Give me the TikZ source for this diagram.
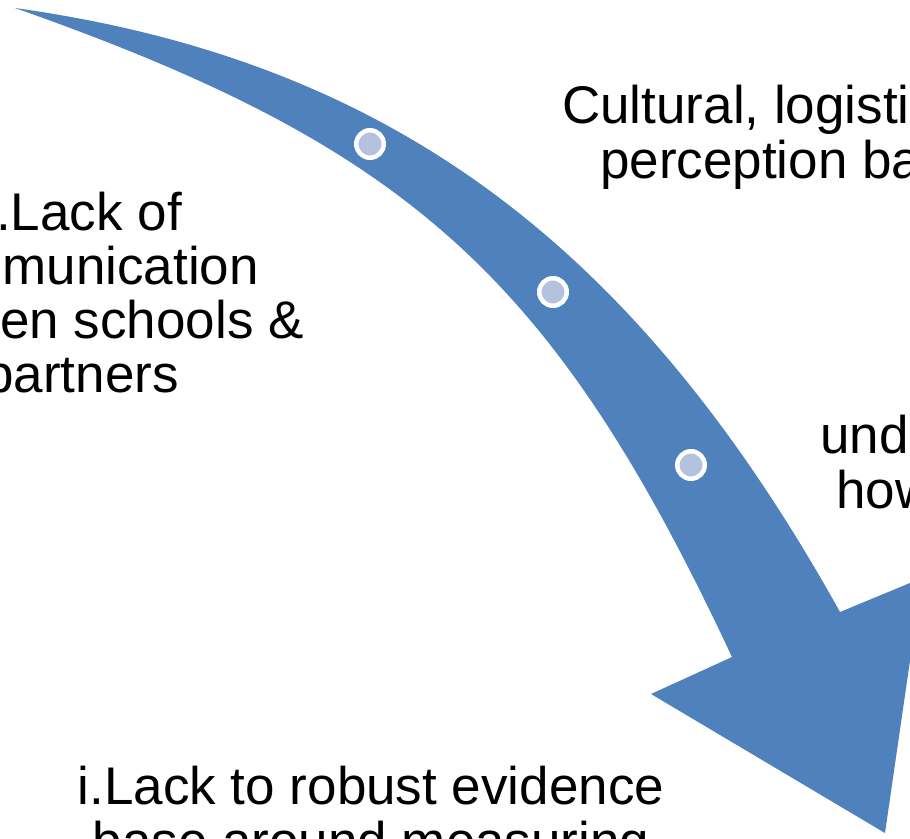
\documentclass[tikz,border=0pt]{standalone}
\usepackage{fontspec}
\setmainfont{Liberation Sans}
\definecolor{arrowblue}{HTML}{4F81BD}
\definecolor{dotfill}{HTML}{B3C2DE}

\begin{document}
\begin{tikzpicture}[x=1pt, y=-1pt,
    band/.style={fill=arrowblue, draw=none},
    dot/.style={circle, fill=dotfill, draw=white, line width=4.5pt, minimum size=27.5pt, inner sep=0pt},
    txt/.style={font=\fontsize{53}{55}\selectfont, inner sep=0pt, text=black}
]
\useasboundingbox (0,0) rectangle (910,838);
\clip (0,0) rectangle (910,838);

% Curved arrow
\fill[band] (15,8) .. controls (387,60) and (634,242) .. (840,612)
    -- (922,578) -- (885,833) -- (651,694) -- (732,657)
    .. controls (554,277) and (410,147) .. cycle;

% Markers on the arrow
\node[dot] (m1) at (370,144) {};
\node[dot] (m2) at (553,292) {};
\node[dot] (m3) at (691,465) {};

% Left labels
\node[txt, anchor=base east] (l1) at (182,230) {.Lack of};
\node[txt, anchor=base east] (l2) at (259,284) {munication};
\node[txt, anchor=base east] (l3) at (304,338) {en schools \&};
\node[txt, anchor=base east] (l4) at (179,392) {partners};

% Right labels
\node[txt, anchor=base west] (r1) at (562,123) {Cultural, logisti};
\node[txt, anchor=base west] (r2) at (600,178) {perception ba};
\node[txt, anchor=base west] (r3) at (820,453) {unde};
\node[txt, anchor=base west] (r4) at (836,508) {how};

% Bottom label
\node[txt, anchor=base] (b1) at (371,804) {i.Lack to robust evidence};
\node[txt, anchor=base] (b2) at (371,859) {base around measuring};

\end{tikzpicture}
\end{document}
